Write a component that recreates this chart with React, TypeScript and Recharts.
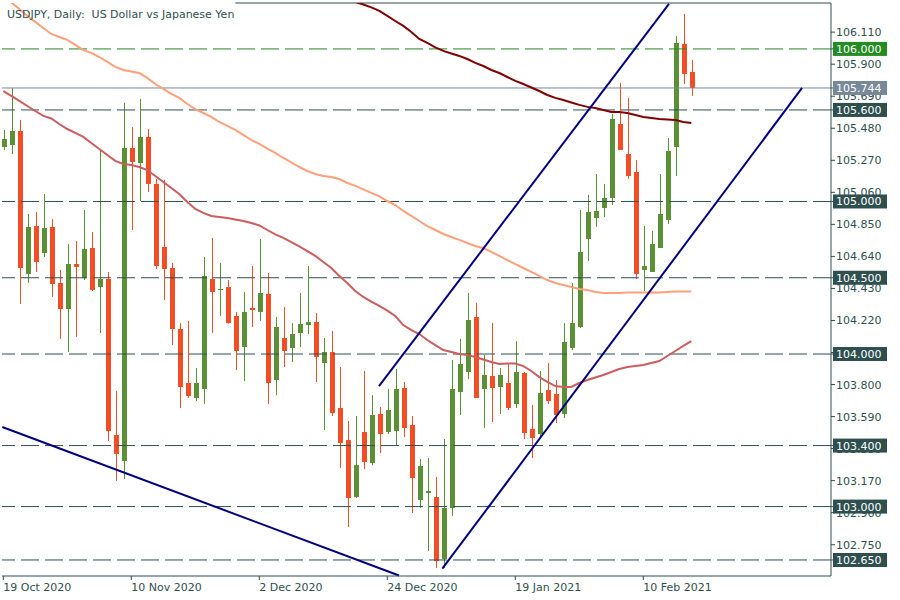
import { ComposedChart, Bar, Line, XAxis, YAxis, ReferenceLine } from 'recharts'

// USDJPY daily candles, 19 Oct 2020 .. 16 Feb 2021
const opens = [
  105.357, 105.37, 105.462, 104.525, 104.839, 104.662, 104.833, 104.466, 104.295, 104.59,
  104.498, 104.695, 104.439, 104.492, 103.469, 103.299, 105.351, 105.252, 105.423, 105.115,
  104.702, 104.564, 104.164, 103.81, 103.712, 103.771, 104.492, 104.42, 104.439, 104.249,
  104.046, 104.302, 104.276, 104.394, 103.83, 104.105, 104.04, 104.138, 104.19, 104.21,
  103.941, 104.013, 103.646, 103.436, 103.063, 103.489, 103.286, 103.607, 103.489, 103.495,
  103.777, 103.535, 103.043, 103.089, 103.063, 102.656, 102.991, 103.751, 103.882, 104.243,
  103.771, 103.856, 103.784, 103.81, 103.672, 103.876, 103.509, 103.476, 103.764, 103.738,
  103.607, 104.04, 104.177, 104.754, 104.892, 104.957, 105.023, 105.508, 105.311, 105.193,
  104.551, 104.538, 104.695, 104.879, 105.357, 106.033, 105.849,
]
const highs = [
  105.469, 105.744, 105.534, 104.918, 104.931, 105.049, 104.885, 104.551, 104.721, 104.741,
  104.944, 104.8, 105.338, 104.538, 103.758, 105.646, 105.488, 105.672, 105.475, 105.148,
  105.141, 104.597, 104.203, 104.217, 103.908, 104.636, 104.761, 104.597, 104.485, 104.276,
  104.407, 104.577, 104.754, 104.531, 104.243, 104.308, 104.203, 104.4, 104.577, 104.269,
  104.105, 104.151, 103.915, 103.561, 103.594, 103.889, 103.731, 103.653, 103.771, 103.902,
  103.817, 103.594, 103.312, 103.318, 103.194, 103.443, 103.961, 104.099, 104.4, 104.335,
  103.994, 104.203, 103.908, 103.935, 104.085, 103.882, 103.666, 103.889, 103.941, 103.83,
  104.203, 104.466, 104.944, 105.043, 105.18, 105.115, 105.574, 105.777, 105.679, 105.272,
  104.839, 104.807, 105.18, 105.416, 106.085, 106.229, 105.928,
]
const lows = [
  105.338, 105.311, 104.328, 104.466, 104.538, 104.636, 104.374, 104.099, 104.013, 104.112,
  104.485, 104.413, 104.138, 103.43, 103.168, 103.181, 104.813, 105.003, 105.062, 104.557,
  104.354, 104.059, 103.646, 103.712, 103.692, 103.672, 104.138, 104.249, 104.2, 103.895,
  103.823, 104.177, 104.217, 103.672, 103.731, 103.915, 103.948, 104.046, 104.131, 103.817,
  103.502, 103.594, 103.253, 102.866, 103.056, 103.246, 103.272, 103.351, 103.476, 103.404,
  103.456, 102.958, 102.991, 102.709, 102.597, 102.597, 102.938, 103.6, 103.836, 103.712,
  103.515, 103.554, 103.607, 103.633, 103.646, 103.443, 103.318, 103.45, 103.672, 103.548,
  103.581, 104.026, 104.171, 104.61, 104.833, 104.898, 104.977, 105.338, 105.148, 104.492,
  104.413, 104.538, 104.695, 104.853, 105.167, 105.77, 105.692,
]
const closes = [
  105.41, 105.462, 104.564, 104.833, 104.603, 104.826, 104.459, 104.295, 104.59, 104.571,
  104.689, 104.42, 104.492, 103.495, 103.345, 105.351, 105.259, 105.423, 105.115, 104.577,
  104.557, 104.164, 103.784, 103.725, 103.81, 104.512, 104.407, 104.426, 104.203, 104.02,
  104.276, 104.289, 104.4, 103.81, 104.177, 104.02, 104.131, 104.197, 104.21, 103.981,
  104.013, 103.613, 103.417, 103.056, 103.272, 103.292, 103.6, 103.476, 103.633, 103.771,
  103.515, 103.187, 103.266, 103.102, 102.643, 102.991, 103.771, 103.935, 104.223, 103.712,
  103.863, 103.777, 103.863, 103.646, 103.882, 103.482, 103.45, 103.745, 103.692, 103.6,
  104.079, 104.203, 104.669, 104.931, 104.938, 105.023, 105.541, 105.338, 105.167, 104.525,
  104.577, 104.721, 104.918, 105.331, 106.039, 105.836, 105.744,
]

// moving averages (read per bar)
const ma50 = [
  105.724, 105.692, 105.659, 105.626, 105.593, 105.561, 105.544, 105.508, 105.475, 105.449,
  105.423, 105.383, 105.344, 105.305, 105.266, 105.246, 105.239, 105.226, 105.206, 105.167,
  105.128, 105.088, 105.049, 104.997, 104.951, 104.925, 104.905, 104.898, 104.892, 104.882,
  104.872, 104.859, 104.843, 104.813, 104.784, 104.761, 104.734, 104.705, 104.675, 104.643,
  104.603, 104.564, 104.512, 104.466, 104.413, 104.374, 104.344, 104.315, 104.285, 104.249,
  104.19, 104.157, 104.131, 104.092, 104.059, 104.026, 104.013, 104.0, 103.994, 103.981,
  103.964, 103.948, 103.935, 103.938, 103.938, 103.921, 103.889, 103.849, 103.817, 103.79,
  103.784, 103.784, 103.81, 103.83, 103.846, 103.863, 103.882, 103.902, 103.915, 103.921,
  103.928, 103.941, 103.954, 103.987, 104.02, 104.053, 104.085,
]
const ma100 = [
  106.341, 106.305, 106.262, 106.216, 106.177, 106.137, 106.098, 106.078, 106.059, 106.026,
  105.993, 105.974, 105.947, 105.915, 105.882, 105.862, 105.852, 105.842, 105.81, 105.77,
  105.738, 105.705, 105.679, 105.639, 105.606, 105.58, 105.554, 105.521, 105.495, 105.469,
  105.436, 105.403, 105.377, 105.347, 105.318, 105.285, 105.256, 105.226, 105.2, 105.18,
  105.167, 105.161, 105.147, 105.121, 105.102, 105.079, 105.056, 105.033, 105.003, 104.977,
  104.938, 104.905, 104.872, 104.839, 104.813, 104.787, 104.767, 104.748, 104.728, 104.708,
  104.695, 104.669, 104.643, 104.616, 104.59, 104.564, 104.538, 104.512, 104.485, 104.466,
  104.453, 104.439, 104.426, 104.42, 104.407, 104.4, 104.4, 104.4, 104.403, 104.403,
  104.403, 104.403, 104.403, 104.407, 104.41, 104.41, 104.41,
]
const ma200 = [
  null, null, null, null, null, null, null, null, null, null,
  null, null, null, null, null, null, null, null, null, null,
  null, null, null, null, null, null, null, null, null, null,
  null, null, null, null, null, null, null, null, null, null,
  null, null, null, 106.328, 106.308, 106.291, 106.272, 106.249, 106.216, 106.183,
  106.151, 106.111, 106.065, 106.039, 106.01, 105.987, 105.97, 105.954, 105.934, 105.908,
  105.888, 105.862, 105.842, 105.816, 105.79, 105.77, 105.747, 105.724, 105.698, 105.679,
  105.665, 105.649, 105.633, 105.62, 105.613, 105.6, 105.587, 105.587, 105.58, 105.567,
  105.554, 105.547, 105.541, 105.538, 105.534, 105.521, 105.515,
]

const dateTickIdx = [0, 16, 32, 48, 64, 80]
const dateLabels = ['19 Oct 2020', '10 Nov 2020', '2 Dec 2020', '24 Dec 2020', '19 Jan 2021', '10 Feb 2021']
const priceTicks = [
  106.11, 105.9, 105.69, 105.48, 105.27, 105.06, 104.85, 104.64, 104.43, 104.22, 104.01,
  103.8, 103.59, 103.38, 103.17, 102.96, 102.75,
]
const levels = [105.6, 105.0, 104.5, 104.0, 103.4, 103.0, 102.65]
const targetLevel = 106.0
const lastPrice = 105.744

// trend lines: [x index, price] pairs
const lowerTrend = [[-0.125, 103.522], [49.46, 102.548]]
const channelTop = [[46.96, 103.79], [83.21, 106.295]]
const channelBottom = [[54.875, 102.593], [99.84, 105.744]]
const topEdge = [[29, 106.301], [103.46, 106.301]]

const BULL = '#5b9134'
const BEAR = '#f24e26'
const INK = '#2f4f4f'
const GREEN = '#228b22'
const GRAY = '#778899'
const FONT = '"DejaVu Sans", Tahoma, sans-serif'

const data = opens.map((o, i) => ({
  i,
  o,
  h: highs[i],
  l: lows[i],
  c: closes[i],
  range: [lows[i], highs[i]],
  ma50: ma50[i],
  ma100: ma100[i],
  ma200: ma200[i],
}))

// plain ticks first, then the boxed levels so they paint on top
const boxColor = new Map<number, string>([
  ...levels.map((v) => [v, INK] as [number, string]),
  [lastPrice, GRAY],
  [targetLevel, GREEN],
])
const allTicks = [...priceTicks, ...levels, lastPrice, targetLevel]

function Candle(props: any) {
  const { x, y, width, height } = props
  const p = props.payload ?? props
  const { o, h, l, c } = p
  const span = h - l || 1
  const toY = (v: number) => y + ((h - v) / span) * height
  const cx = Math.round(x + width / 2)
  const top = toY(Math.max(o, c))
  const bot = toY(Math.min(o, c))
  const color = c >= o ? BULL : BEAR
  return (
    <g>
      <rect x={cx} y={y} width={1} height={Math.max(1, height)} fill={color} />
      <rect x={cx - 2} y={top} width={5} height={Math.max(1, bot - top)} fill={color} />
    </g>
  )
}

const DateTick = (p: any) => {
  const k = dateTickIdx.indexOf(p.payload.value)
  return (
    <text x={p.x} y={p.y + 9} fill={INK} fontSize={11} fontFamily={FONT} textAnchor="start">
      {dateLabels[k]}
    </text>
  )
}

const PriceTick = (p: any) => {
  const v = p.payload.value
  const bg = boxColor.get(v)
  if (bg) {
    return (
      <g>
        <rect x={p.x - 3} y={p.y - 7} width={54} height={14} fill={bg} />
        <text x={p.x} y={p.y + 4} fill="#fff" fontSize={11} fontFamily={FONT} textAnchor="start">
          {v.toFixed(3)}
        </text>
      </g>
    )
  }
  return (
    <text x={p.x} y={p.y + 4} fill={INK} fontSize={11} fontFamily={FONT} textAnchor="start">
      {v.toFixed(3)}
    </text>
  )
}

const seg = (s: number[][]) => s.map(([x, y]) => ({ x, y }))

export default function App() {
  return (
    <div style={{ position: 'absolute', left: 0, top: 0, width: 900, height: 600, background: '#fff' }}>
      <div
        style={{
          position: 'absolute',
          left: 7,
          top: 8,
          fontFamily: FONT,
          fontSize: 11,
          lineHeight: '13px',
          color: INK,
          whiteSpace: 'pre',
          zIndex: 2,
        }}
      >
        {'USDJPY, Daily:  US Dollar vs Japanese Yen'}
      </div>
      <ComposedChart width={900} height={600} data={data} margin={{ top: 3, right: 0, bottom: 0, left: 2 }}>
        <XAxis
          dataKey="i"
          type="number"
          domain={[-0.1625, 103.46]}
          allowDataOverflow
          ticks={dateTickIdx}
          interval={0}
          height={24}
          tickSize={4}
          tickMargin={2}
          stroke={INK}
          tick={DateTick}
        />
        <YAxis
          orientation="right"
          type="number"
          domain={[102.545, 106.301]}
          allowDataOverflow
          ticks={allTicks}
          interval={0}
          width={69}
          tickSize={4}
          tickMargin={1}
          stroke={INK}
          tick={PriceTick}
        />
        <YAxis yAxisId="frame" orientation="left" width={0} tick={false} tickLine={false} stroke={INK} />

        <ReferenceLine segment={seg(topEdge)} stroke={INK} strokeWidth={1} ifOverflow="visible" />
        <ReferenceLine y={lastPrice} stroke={GRAY} strokeWidth={1} />
        <ReferenceLine y={targetLevel} stroke={GREEN} strokeDasharray="18 6" />
        {levels.map((lv) => (
          <ReferenceLine key={lv} y={lv} stroke={INK} strokeDasharray="18 6" />
        ))}

        <Bar dataKey="range" barSize={5} shape={Candle} isAnimationActive={false} />

        <Line dataKey="ma100" type="linear" stroke="#ffa07a" strokeWidth={2} dot={false} isAnimationActive={false} />
        <Line dataKey="ma50" type="linear" stroke="#cd5c5c" strokeWidth={2} dot={false} isAnimationActive={false} />
        <Line dataKey="ma200" type="linear" stroke="#800000" strokeWidth={2} dot={false} isAnimationActive={false} />

        <ReferenceLine segment={seg(lowerTrend)} stroke="#000080" strokeWidth={2} ifOverflow="visible" />
        <ReferenceLine segment={seg(channelTop)} stroke="#000080" strokeWidth={2} ifOverflow="visible" />
        <ReferenceLine segment={seg(channelBottom)} stroke="#000080" strokeWidth={2} ifOverflow="visible" />
      </ComposedChart>
    </div>
  )
}
